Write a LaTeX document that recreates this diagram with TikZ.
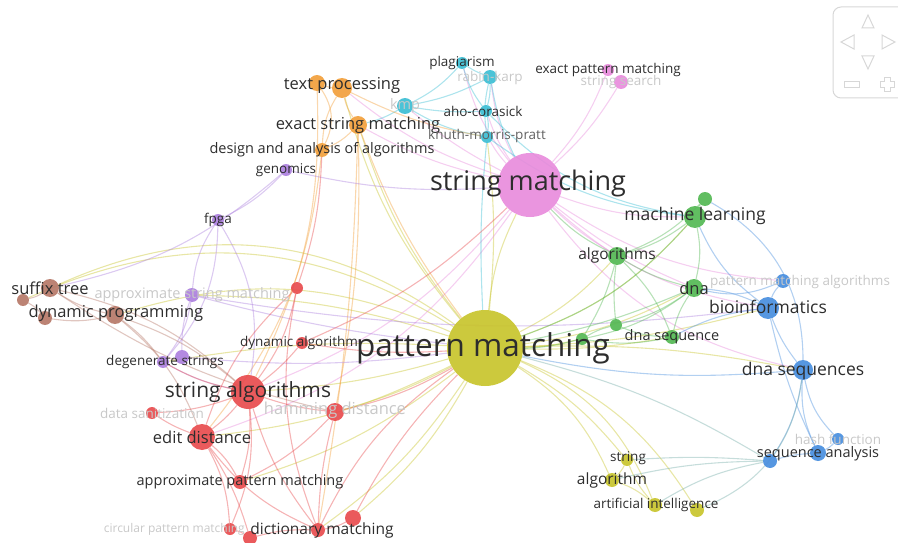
\documentclass[tikz,border=0pt]{standalone}
\usepackage{fontspec}
\setmainfont{Open Sans}
\usetikzlibrary{positioning}

\definecolor{cyel}{RGB}{200,196,44}
\definecolor{cpink}{RGB}{232,140,220}
\definecolor{cred}{RGB}{232,76,78}
\definecolor{corg}{RGB}{242,160,60}
\definecolor{ccyan}{RGB}{60,190,212}
\definecolor{cpur}{RGB}{172,128,222}
\definecolor{cbrn}{RGB}{182,120,104}
\definecolor{cgrn}{RGB}{84,184,84}
\definecolor{cblu}{RGB}{72,142,222}
\definecolor{cteal}{RGB}{120,175,170}
\definecolor{ctxt}{RGB}{45,45,45}
\definecolor{cfaint}{RGB}{200,200,200}
\definecolor{cnav}{RGB}{215,215,215}

\newcommand{\fs}[1]{\fontsize{#1}{#1}\selectfont}

\pgfdeclarelayer{edges}
\pgfsetlayers{edges,main}

\begin{document}
\begin{tikzpicture}[x=1pt, y=-1pt,
    kwdot/.style={circle, inner sep=0pt, minimum size=#1pt, fill opacity=.92},
    kwlbl/.style={text=ctxt, inner sep=0pt},
    faint/.style={text=cfaint, inner sep=0pt},
    link/.style={draw=#1, draw opacity=.42, line width=1.1pt}]
    \useasboundingbox (0,0) rectangle (898,543);

    % pattern matching cluster (yellow)
    \node[kwdot=76, fill=cyel] (pm) at (485,348) {};
    \node[kwdot=12, fill=cyel] (str) at (627,460) {};
    \node[kwdot=14, fill=cyel] (alg) at (612,480) {};
    \node[kwdot=14, fill=cyel] (ai) at (655,505) {};
    \node[kwdot=14, fill=cyel] (ai2) at (697,510) {};

    % string matching cluster (pink)
    \node[kwdot=64, fill=cpink] (sm) at (530,185) {};
    \node[kwdot=12, fill=cpink] (epm) at (608,70) {};
    \node[kwdot=14, fill=cpink] (ss) at (621,82) {};

    % cyan
    \node[kwdot=12, fill=ccyan] (plag) at (462,63) {};
    \node[kwdot=14, fill=ccyan] (rk) at (490,77) {};
    \node[kwdot=12, fill=ccyan] (aho) at (486,111) {};
    \node[kwdot=12, fill=ccyan] (kmpr) at (487,137) {};
    \node[kwdot=16, fill=ccyan] (kmp) at (405,106) {};

    % orange
    \node[kwdot=20, fill=corg] (tp) at (342,88) {};
    \node[kwdot=16, fill=corg] (tp2) at (317,83) {};
    \node[kwdot=18, fill=corg] (esm) at (358,125) {};
    \node[kwdot=14, fill=corg] (daa) at (322,150) {};

    % purple
    \node[kwdot=12, fill=cpur] (gen) at (286,170) {};
    \node[kwdot=12, fill=cpur] (fpga) at (218,220) {};
    \node[kwdot=14, fill=cpur] (asm) at (192,295) {};
    \node[kwdot=12, fill=cpur] (deg) at (163,362) {};
    \node[kwdot=14, fill=cpur] (deg2) at (182,357) {};

    % brown
    \node[kwdot=18, fill=cbrn] (sft) at (50,288) {};
    \node[kwdot=12, fill=cbrn] (sft2) at (23,300) {};
    \node[kwdot=18, fill=cbrn] (dp) at (115,315) {};
    \node[kwdot=14, fill=cbrn] (dp2) at (45,318) {};

    % red
    \node[kwdot=34, fill=cred] (sa) at (248,392) {};
    \node[kwdot=12, fill=cred] (dsan) at (152,413) {};
    \node[kwdot=26, fill=cred] (ed) at (202,437) {};
    \node[kwdot=18, fill=cred] (ham) at (335,412) {};
    \node[kwdot=14, fill=cred] (apm) at (240,482) {};
    \node[kwdot=12, fill=cred] (circ) at (230,529) {};
    \node[kwdot=14, fill=cred] (red7) at (250,538) {};
    \node[kwdot=14, fill=cred] (dm) at (318,530) {};
    \node[kwdot=16, fill=cred] (red9) at (353,518) {};
    \node[kwdot=12, fill=cred] (dyna) at (302,343) {};
    \node[kwdot=12, fill=cred] (red11) at (297,288) {};

    % green
    \node[kwdot=22, fill=cgrn] (ml) at (695,217) {};
    \node[kwdot=14, fill=cgrn] (ml2) at (705,199) {};
    \node[kwdot=18, fill=cgrn] (algs) at (617,256) {};
    \node[kwdot=18, fill=cgrn] (dna) at (694,288) {};
    \node[kwdot=14, fill=cgrn] (dnas) at (672,337) {};
    \node[kwdot=12, fill=cgrn] (g6) at (616,325) {};
    \node[kwdot=12, fill=cgrn] (g7) at (582,339) {};

    % blue
    \node[kwdot=14, fill=cblu] (pma) at (783,281) {};
    \node[kwdot=22, fill=cblu] (bio) at (768,308) {};
    \node[kwdot=20, fill=cblu] (dnaq) at (803,370) {};
    \node[kwdot=12, fill=cblu] (hash) at (838,439) {};
    \node[kwdot=16, fill=cblu] (seqa) at (818,453) {};
    \node[kwdot=14, fill=cblu] (seqa2) at (770,461) {};

    % links
    \begin{pgfonlayer}{edges}
    \foreach \a/\b/\c in {pm/sm/10, pm/sft/-30, pm/sft2/-28, pm/dp/-20, pm/sa/6,
        pm/ed/10, pm/ham/6, pm/asm/-8, pm/str/10, pm/alg/16, pm/ai/22, pm/ai2/18,
        pm/dna/-10, pm/algs/-10, pm/ml/-14, pm/bio/-6, pm/dnaq/6, pm/esm/10,
        pm/tp/12, pm/kmpr/-6, pm/dm/10, pm/apm/10, pm/deg/-6, pm/g7/-5,
        pm/dnas/-5, pm/red9/10, alg/ai/10, str/ai/-10, str/alg/10}
        \draw[link=cyel] (\a) to[bend left=\c] (\b);
    \foreach \a/\b/\c in {sm/epm/-10, sm/ss/-8, sm/kmpr/6, sm/aho/8, sm/rk/10,
        sm/plag/12, sm/bio/-16, sm/dnaq/-20, sm/ml/-10, sm/algs/-6, sm/sa/14,
        sm/ed/18, sm/tp/10, sm/esm/8, sm/kmp/6, sm/dna/-8, sm/pma/-14}
        \draw[link=cpink] (\a) to[bend left=\c] (\b);
    \foreach \a/\b/\c in {kmp/aho/-6, kmp/kmpr/-10, kmp/plag/-10, kmp/rk/-8,
        rk/plag/6, rk/aho/8, rk/kmpr/-10, aho/kmpr/10, plag/aho/-10, kmp/esm/8,
        aho/ml/-18, kmpr/ml/-14, rk/sm/-8, kmpr/pm/-4}
        \draw[link=ccyan] (\a) to[bend left=\c] (\b);
    \foreach \a/\b/\c in {tp/tp2/10, tp/esm/-10, tp2/daa/30, tp/daa/-14,
        esm/daa/10, esm/pm/-8, esm/ham/6, daa/ed/16, tp2/sa/14, esm/dm/4,
        tp/kmpr/-8}
        \draw[link=corg] (\a) to[bend left=\c] (\b);
    \foreach \a/\b/\c in {gen/fpga/10, gen/sm/-8, fpga/asm/-14, fpga/deg/20,
        asm/deg/14, asm/deg2/-10, asm/pm/-4, gen/sft/14, deg/sa/-8, deg2/pm/-6,
        asm/bio/-8, fpga/sa/20}
        \draw[link=cpur] (\a) to[bend left=\c] (\b);
    \foreach \a/\b/\c in {sft/sft2/10, sft/dp/-10, sft2/dp2/10, dp/dp2/10,
        sft/sa/14, dp/sa/10, dp/ed/14, dp/deg/8, sft/ham/-10}
        \draw[link=cbrn] (\a) to[bend left=\c] (\b);
    \foreach \a/\b/\c in {sa/ed/6, sa/ham/-6, sa/dsan/8, sa/apm/10, sa/dyna/-6,
        sa/deg/8, sa/dm/-10, sa/circ/14, sa/red11/-12, ed/apm/10, ed/circ/12,
        ed/red7/8, ed/dm/-14, ed/dsan/6, ham/dm/-6, ham/pm/-8, dm/pm/14,
        red9/pm/8, apm/ham/-10, dyna/pm/-6, red11/daa/-8, red11/ed/-14,
        circ/red7/10, dm/red9/-10, red7/dm/8, red11/dm/-16, dyna/sm/-10}
        \draw[link=cred] (\a) to[bend left=\c] (\b);
    \foreach \a/\b/\c in {algs/dna/-8, algs/ml/-10, algs/dnas/12, algs/g6/-6,
        algs/g7/8, dna/dnas/-10, dna/ml/-12, dna/g6/10, dna/g7/12, g6/g7/-8,
        g6/dnas/-10, ml/ml2/10, ml/pm/14, dna/pm/6, g7/pm/6, algs/sm/10,
        dnas/g7/10, ml2/algs/12}
        \draw[link=cgrn] (\a) to[bend left=\c] (\b);
    \foreach \a/\b/\c in {bio/dnaq/-8, bio/pma/10, bio/ml/14, dnaq/seqa/-14,
        dnaq/hash/-16, dnaq/seqa2/12, hash/seqa/10, seqa/seqa2/-6, bio/seqa/-6,
        pma/dna/18, dnaq/ml2/-30, bio/dna/-10, dnaq/pm/8, bio/dnas/-10}
        \draw[link=cblu] (\a) to[bend left=\c] (\b);
    \foreach \a/\b/\c in {seqa2/alg/-6, seqa2/ai/-10, seqa2/pm/-8, seqa2/str/-4,
        ai2/dnaq/-30}
        \draw[link=cteal] (\a) to[bend left=\c] (\b);
    \end{pgfonlayer}

    % faint labels
    \node[faint, font=\fs{13.5}] (rk-l) at (490,78) {rabin-karp};
    \node[faint, font=\fs{13.5}] (ss-l) at (621,82) {string search};
    \node[faint, font=\fs{14.5}] (kmp-l) at (405,106) {kmp};
    \node[faint, font=\fs{14.5}] (asm-l) at (192,295) {approximate string matching};
    \node[faint, font=\fs{13.5}] (dsan-l) at (152,413) {data sanitization};
    \node[faint, font=\fs{16.5}] (ham-l) at (335,410) {hamming distance};
    \node[faint, font=\fs{12}, anchor=east] (circ-l) at (245,529) {circular pattern matching};
    \node[faint, font=\fs{13.5}, anchor=west] (pma-l) at (710,282) {pattern matching algorithms};
    \node[faint, font=\fs{13.5}] (hash-l) at (838,439) {hash function};

    % labels
    \node[kwlbl, font=\fs{31.5}] (pm-l) at (483,348) {pattern matching};
    \node[kwlbl, font=\fs{27}] (sm-l) at (528,183) {string matching};
    \node[kwlbl, font=\fs{21}] (sa-l) at (248,392) {string algorithms};
    \node[kwlbl, font=\fs{16.5}] (ed-l) at (202,437) {edit distance};
    \node[kwlbl, font=\fs{14.5}] (apm-l) at (240,482) {approximate pattern matching};
    \node[kwlbl, font=\fs{15.5}] (dm-l) at (322,530) {dictionary matching};
    \node[kwlbl, font=\fs{13.5}] (dyna-l) at (299,343) {dynamic algorithm};
    \node[kwlbl, font=\fs{13.5}] (deg-l) at (165,362) {degenerate strings};
    \node[kwlbl, font=\fs{16.5}] (sft-l) at (50,288) {suffix tree};
    \node[kwlbl, font=\fs{16.5}] (dp-l) at (116,313) {dynamic programming};
    \node[kwlbl, font=\fs{13.5}] (fpga-l) at (218,220) {fpga};
    \node[kwlbl, font=\fs{13.5}] (gen-l) at (286,170) {genomics};
    \node[kwlbl, font=\fs{14.5}] (daa-l) at (322,150) {design and analysis of algorithms};
    \node[kwlbl, font=\fs{16.5}] (esm-l) at (358,125) {exact string matching};
    \node[kwlbl, font=\fs{16.5}] (tp-l) at (342,85) {text processing};
    \node[kwlbl, font=\fs{13.5}] (plag-l) at (462,63) {plagiarism};
    \node[kwlbl, font=\fs{13.5}] (aho-l) at (483,111) {aho-corasick};
    \node[kwlbl, font=\fs{13.5}, text=ctxt!75] (kmpr-l) at (487,136) {knuth-morris-pratt};
    \node[kwlbl, font=\fs{13.5}] (epm-l) at (608,70) {exact pattern matching};
    \node[kwlbl, font=\fs{17.5}] (ml-l) at (695,216) {machine learning};
    \node[kwlbl, font=\fs{15.5}] (algs-l) at (617,255) {algorithms};
    \node[kwlbl, font=\fs{16.5}] (dna-l) at (694,288) {dna};
    \node[kwlbl, font=\fs{14.5}] (dnas-l) at (672,337) {dna sequence};
    \node[kwlbl, font=\fs{17.5}] (bio-l) at (768,307) {bioinformatics};
    \node[kwlbl, font=\fs{17.5}] (dnaq-l) at (803,371) {dna sequences};
    \node[kwlbl, font=\fs{14.5}] (seqa-l) at (818,454) {sequence analysis};
    \node[kwlbl, font=\fs{13.5}] (str-l) at (628,458) {string};
    \node[kwlbl, font=\fs{15.5}] (alg-l) at (612,480) {algorithm};
    \node[kwlbl, font=\fs{13.5}] (ai-l) at (656,505) {artificial intelligence};

    % navigation control
    \draw[cnav, line width=1pt, rounded corners=8pt] (905,7) -- (833,7) -- (833,98) -- (905,98);
    \draw[cnav, line width=1pt] (862,28) -- (868,15) -- (874,28) -- cycle;
    \draw[cnav, line width=1pt] (854,35) -- (841,42) -- (854,49) -- cycle;
    \draw[cnav, line width=1pt] (882,35) -- (895,42) -- (882,49) -- cycle;
    \draw[cnav, line width=1pt] (862,56) -- (868,69) -- (874,56) -- cycle;
    \draw[cnav, line width=1pt] (844,82) rectangle (859,88);
    \draw[cnav, line width=1pt] (884,78) -- (890,78) -- (890,82) -- (894,82) -- (894,88)
        -- (890,88) -- (890,92) -- (884,92) -- (884,88) -- (880,88) -- (880,82)
        -- (884,82) -- cycle;
\end{tikzpicture}
\end{document}
